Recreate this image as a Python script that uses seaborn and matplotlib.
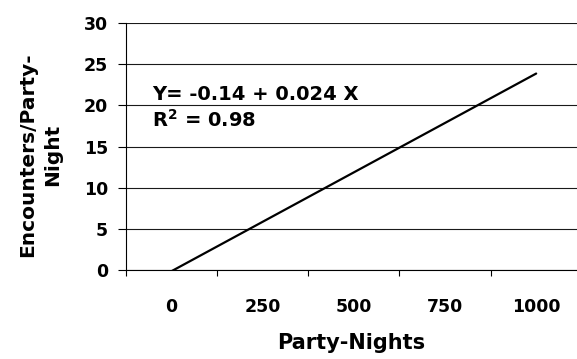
import matplotlib
matplotlib.use("Agg")
import matplotlib.pyplot as plt
import seaborn as sns
import pandas as pd

# Data
party_nights = [0, 250, 500, 750, 1000]
encounters = [-0.14, 5.86, 11.86, 17.86, 23.86]
x_ticks = [0, 250, 500, 750, 1000]
x_tick_labels = ["0", "250", "500", "750", "1000"]
y_ticks = [0, 5, 10, 15, 20, 25, 30]
equation_text = "Y= -0.14 + 0.024 X"
r2_text = "R$^{\\mathbf{2}}$ = 0.98"
x_label = "Party-Nights"
y_label = "Encounters/Party-\nNight"

sns.set_theme(style="white")
plt.rcParams["font.family"] = ["DejaVu Sans"]
plt.rcParams["font.weight"] = "bold"
plt.rcParams["mathtext.default"] = "bf"

df = pd.DataFrame({"x": party_nights, "y": encounters})

fig = plt.figure(figsize=(5.77, 3.59), dpi=100)
W, H = 577, 359
ax = fig.add_axes([126 / W, (H - 270) / H, (577 - 126) / W, (270 - 23) / H])

sns.lineplot(data=df, x="x", y="y", ax=ax, color="black", linewidth=1.6)

ax.set_xlim(-125, 1112)
ax.set_ylim(0, 30)

# gridlines
ax.set_yticks(y_ticks)
ax.yaxis.grid(True, color="#1a1a1a", linewidth=0.8)
ax.xaxis.grid(False)
ax.set_axisbelow(True)

for s in ["top", "right"]:
    ax.spines[s].set_visible(False)
for s in ["left", "bottom"]:
    ax.spines[s].set_color("black")
    ax.spines[s].set_linewidth(0.8)

ax.set_xticks(x_ticks)
ax.set_xticklabels(x_tick_labels)
ax.set_xticks([-125, 125, 375, 625, 875], minor=True)
ax.tick_params(axis="x", which="major", length=0, pad=20, labelsize=12.5)
ax.tick_params(axis="x", which="minor", direction="out", length=4.5,
               width=0.8, color="black", bottom=True)
ax.tick_params(axis="y", which="major", direction="out", length=6,
               width=0.8, color="black", pad=7, labelsize=12.5, left=True)
for lab in ax.get_xticklabels() + ax.get_yticklabels():
    lab.set_fontweight("bold")
    lab.set_color("black")

ax.set_xlabel(x_label, fontsize=15, fontweight="bold", color="black")
ax.xaxis.set_label_coords(0.5, -0.255)
ax.set_ylabel(y_label, fontsize=14.5, fontweight="bold", color="black",
              va="center", linespacing=1.4)
ax.yaxis.set_label_coords(-0.19, 0.466)

ax.text(0.0576, 0.688, equation_text, transform=ax.transAxes,
        fontsize=14, fontweight="bold", va="baseline", ha="left", color="black")
ax.text(0.0576, 0.579, r2_text, transform=ax.transAxes,
        fontsize=14, fontweight="bold", va="baseline", ha="left", color="black")

fig.savefig("out.png", dpi=100)
